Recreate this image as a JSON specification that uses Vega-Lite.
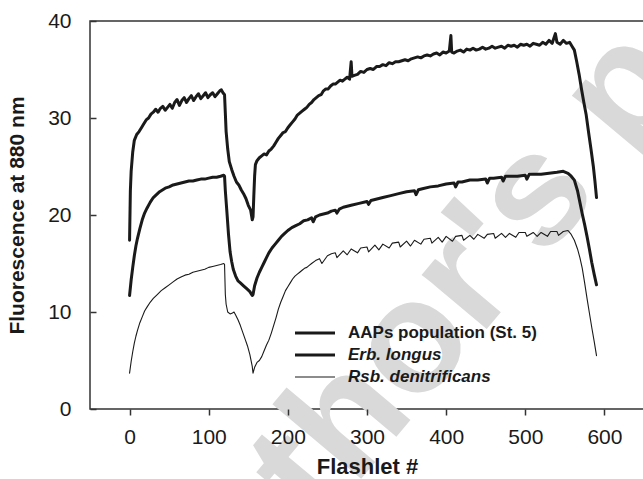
{
  "$schema": "https://vega.github.io/schema/vega-lite/v6.json",
  "width": 554,
  "height": 388,
  "autosize": {"type": "none"},
  "padding": {"left": 90, "top": 21, "right": 0, "bottom": 70},
  "config": {
    "font": "Liberation Sans",
    "view": {"stroke": "#333333", "strokeWidth": 1.5},
    "axis": {"grid": false, "domain": false, "zindex": 1, "tickColor": "#333333", "tickWidth": 1.5, "labelColor": "#1a1a1a", "titleColor": "#1a1a1a", "labelFont": "Liberation Sans", "titleFont": "Liberation Sans"}
  },
  "layer": [
    {
      "data": {"values": [{"label": "Author's personal copy"}]},
      "mark": {"type": "text", "font": "Liberation Sans", "fontSize": 160, "fontWeight": "bold", "fill": "#d9d9d9", "angle": -50, "align": "center", "baseline": "alphabetic", "clip": false},
      "encoding": {
        "text": {"field": "label", "type": "nominal"},
        "x": {"datum": 790, "type": "quantitative", "scale": {"domain": [-50, 650], "nice": false, "zero": false},
          "axis": {"values": [0, 100, 200, 300, 400, 500, 600], "zindex": 1, "tickSize": 6, "labelPadding": 11, "labelFontSize": 21, "title": "Flashlet #", "titleFontSize": 22, "titleFontWeight": "bold", "titlePadding": 9}},
        "y": {"datum": 41.2, "type": "quantitative", "scale": {"domain": [0, 40], "nice": false},
          "axis": {"values": [0, 10, 20, 30, 40], "zindex": 1, "tickSize": -6, "labelPadding": 25, "labelFontSize": 21, "title": "Fluorescence at 880 nm", "titleFontSize": 21, "titleFontWeight": "bold", "titlePadding": 20}}
      }
    },
    {
  "data": {"values": [
    {"s":"AAPs population (St. 5)","x":0,"y":17.4},{"s":"AAPs population (St. 5)","x":1,"y":22.5},{"s":"AAPs population (St. 5)","x":2,"y":24.5},{"s":"AAPs population (St. 5)","x":4,"y":26.5},{"s":"AAPs population (St. 5)","x":6,"y":27.7},{"s":"AAPs population (St. 5)","x":9,"y":28.3},{"s":"AAPs population (St. 5)","x":12,"y":28.6},{"s":"AAPs population (St. 5)","x":15,"y":29.0},{"s":"AAPs population (St. 5)","x":18,"y":29.4},{"s":"AAPs population (St. 5)","x":21,"y":29.8},{"s":"AAPs population (St. 5)","x":24,"y":30.0},{"s":"AAPs population (St. 5)","x":27,"y":30.4},{"s":"AAPs population (St. 5)","x":30,"y":30.6},{"s":"AAPs population (St. 5)","x":33,"y":30.9},{"s":"AAPs population (St. 5)","x":36,"y":30.6},{"s":"AAPs population (St. 5)","x":39,"y":31.0},{"s":"AAPs population (St. 5)","x":42,"y":31.2},{"s":"AAPs population (St. 5)","x":45,"y":30.8},{"s":"AAPs population (St. 5)","x":48,"y":31.1},{"s":"AAPs population (St. 5)","x":51,"y":31.4},{"s":"AAPs population (St. 5)","x":54,"y":31.0},{"s":"AAPs population (St. 5)","x":57,"y":31.6},{"s":"AAPs population (St. 5)","x":60,"y":31.9},{"s":"AAPs population (St. 5)","x":63,"y":31.3},{"s":"AAPs population (St. 5)","x":66,"y":31.8},{"s":"AAPs population (St. 5)","x":69,"y":32.1},{"s":"AAPs population (St. 5)","x":72,"y":31.6},{"s":"AAPs population (St. 5)","x":75,"y":32.0},{"s":"AAPs population (St. 5)","x":78,"y":32.3},{"s":"AAPs population (St. 5)","x":81,"y":31.8},{"s":"AAPs population (St. 5)","x":84,"y":32.2},{"s":"AAPs population (St. 5)","x":87,"y":32.5},{"s":"AAPs population (St. 5)","x":90,"y":32.0},{"s":"AAPs population (St. 5)","x":93,"y":32.3},{"s":"AAPs population (St. 5)","x":96,"y":32.6},{"s":"AAPs population (St. 5)","x":99,"y":32.1},{"s":"AAPs population (St. 5)","x":102,"y":32.4},{"s":"AAPs population (St. 5)","x":105,"y":32.6},{"s":"AAPs population (St. 5)","x":108,"y":32.2},{"s":"AAPs population (St. 5)","x":111,"y":32.5},{"s":"AAPs population (St. 5)","x":114,"y":32.8},{"s":"AAPs population (St. 5)","x":116,"y":32.9},{"s":"AAPs population (St. 5)","x":118,"y":32.6},{"s":"AAPs population (St. 5)","x":120,"y":32.4},{"s":"AAPs population (St. 5)","x":121,"y":30.5},{"s":"AAPs population (St. 5)","x":122,"y":28.6},{"s":"AAPs population (St. 5)","x":124,"y":26.8},{"s":"AAPs population (St. 5)","x":126,"y":25.5},{"s":"AAPs population (St. 5)","x":129,"y":24.7},{"s":"AAPs population (St. 5)","x":132,"y":24.0},{"s":"AAPs population (St. 5)","x":135,"y":23.4},{"s":"AAPs population (St. 5)","x":138,"y":23.1},{"s":"AAPs population (St. 5)","x":141,"y":22.6},{"s":"AAPs population (St. 5)","x":144,"y":22.2},{"s":"AAPs population (St. 5)","x":147,"y":21.7},{"s":"AAPs population (St. 5)","x":150,"y":21.0},{"s":"AAPs population (St. 5)","x":153,"y":20.5},{"s":"AAPs population (St. 5)","x":155,"y":19.5},{"s":"AAPs population (St. 5)","x":156,"y":19.8},{"s":"AAPs population (St. 5)","x":157,"y":22.0},{"s":"AAPs population (St. 5)","x":158,"y":24.0},{"s":"AAPs population (St. 5)","x":159,"y":25.2},{"s":"AAPs population (St. 5)","x":161,"y":25.6},{"s":"AAPs population (St. 5)","x":164,"y":25.9},{"s":"AAPs population (St. 5)","x":167,"y":26.1},{"s":"AAPs population (St. 5)","x":170,"y":26.3},{"s":"AAPs population (St. 5)","x":173,"y":26.2},{"s":"AAPs population (St. 5)","x":176,"y":26.6},{"s":"AAPs population (St. 5)","x":179,"y":26.8},{"s":"AAPs population (St. 5)","x":182,"y":27.1},{"s":"AAPs population (St. 5)","x":185,"y":27.5},{"s":"AAPs population (St. 5)","x":188,"y":27.9},{"s":"AAPs population (St. 5)","x":191,"y":28.2},{"s":"AAPs population (St. 5)","x":194,"y":28.5},{"s":"AAPs population (St. 5)","x":197,"y":28.6},{"s":"AAPs population (St. 5)","x":200,"y":29.0},{"s":"AAPs population (St. 5)","x":203,"y":29.3},{"s":"AAPs population (St. 5)","x":206,"y":29.6},{"s":"AAPs population (St. 5)","x":209,"y":29.9},{"s":"AAPs population (St. 5)","x":212,"y":30.3},{"s":"AAPs population (St. 5)","x":215,"y":30.5},{"s":"AAPs population (St. 5)","x":218,"y":30.7},{"s":"AAPs population (St. 5)","x":221,"y":30.9},{"s":"AAPs population (St. 5)","x":224,"y":31.1},{"s":"AAPs population (St. 5)","x":227,"y":31.4},{"s":"AAPs population (St. 5)","x":230,"y":31.6},{"s":"AAPs population (St. 5)","x":233,"y":31.9},{"s":"AAPs population (St. 5)","x":236,"y":32.1},{"s":"AAPs population (St. 5)","x":239,"y":32.3},{"s":"AAPs population (St. 5)","x":242,"y":32.4},{"s":"AAPs population (St. 5)","x":245,"y":32.8},{"s":"AAPs population (St. 5)","x":248,"y":33.0},{"s":"AAPs population (St. 5)","x":251,"y":33.0},{"s":"AAPs population (St. 5)","x":254,"y":33.3},{"s":"AAPs population (St. 5)","x":257,"y":33.5},{"s":"AAPs population (St. 5)","x":260,"y":33.5},{"s":"AAPs population (St. 5)","x":263,"y":33.7},{"s":"AAPs population (St. 5)","x":266,"y":33.9},{"s":"AAPs population (St. 5)","x":269,"y":33.8},{"s":"AAPs population (St. 5)","x":272,"y":34.0},{"s":"AAPs population (St. 5)","x":275,"y":34.2},{"s":"AAPs population (St. 5)","x":278,"y":34.0},{"s":"AAPs population (St. 5)","x":280,"y":35.8},{"s":"AAPs population (St. 5)","x":281,"y":34.3},{"s":"AAPs population (St. 5)","x":284,"y":34.4},{"s":"AAPs population (St. 5)","x":288,"y":34.5},{"s":"AAPs population (St. 5)","x":292,"y":34.8},{"s":"AAPs population (St. 5)","x":296,"y":34.7},{"s":"AAPs population (St. 5)","x":300,"y":35.0},{"s":"AAPs population (St. 5)","x":304,"y":35.1},{"s":"AAPs population (St. 5)","x":308,"y":35.0},{"s":"AAPs population (St. 5)","x":312,"y":35.3},{"s":"AAPs population (St. 5)","x":316,"y":35.3},{"s":"AAPs population (St. 5)","x":320,"y":35.5},{"s":"AAPs population (St. 5)","x":324,"y":35.4},{"s":"AAPs population (St. 5)","x":328,"y":35.7},{"s":"AAPs population (St. 5)","x":332,"y":35.6},{"s":"AAPs population (St. 5)","x":336,"y":35.8},{"s":"AAPs population (St. 5)","x":340,"y":35.8},{"s":"AAPs population (St. 5)","x":344,"y":35.9},{"s":"AAPs population (St. 5)","x":348,"y":36.0},{"s":"AAPs population (St. 5)","x":352,"y":35.9},{"s":"AAPs population (St. 5)","x":356,"y":36.1},{"s":"AAPs population (St. 5)","x":360,"y":36.2},{"s":"AAPs population (St. 5)","x":364,"y":36.3},{"s":"AAPs population (St. 5)","x":368,"y":36.2},{"s":"AAPs population (St. 5)","x":372,"y":36.4},{"s":"AAPs population (St. 5)","x":376,"y":36.5},{"s":"AAPs population (St. 5)","x":380,"y":36.4},{"s":"AAPs population (St. 5)","x":384,"y":36.6},{"s":"AAPs population (St. 5)","x":388,"y":36.7},{"s":"AAPs population (St. 5)","x":392,"y":36.5},{"s":"AAPs population (St. 5)","x":396,"y":36.8},{"s":"AAPs population (St. 5)","x":400,"y":36.7},{"s":"AAPs population (St. 5)","x":404,"y":36.9},{"s":"AAPs population (St. 5)","x":406,"y":38.5},{"s":"AAPs population (St. 5)","x":407,"y":36.8},{"s":"AAPs population (St. 5)","x":410,"y":36.7},{"s":"AAPs population (St. 5)","x":414,"y":36.9},{"s":"AAPs population (St. 5)","x":418,"y":37.0},{"s":"AAPs population (St. 5)","x":422,"y":36.8},{"s":"AAPs population (St. 5)","x":426,"y":37.1},{"s":"AAPs population (St. 5)","x":430,"y":37.0},{"s":"AAPs population (St. 5)","x":434,"y":37.2},{"s":"AAPs population (St. 5)","x":438,"y":37.0},{"s":"AAPs population (St. 5)","x":442,"y":37.1},{"s":"AAPs population (St. 5)","x":446,"y":37.3},{"s":"AAPs population (St. 5)","x":450,"y":37.1},{"s":"AAPs population (St. 5)","x":454,"y":37.2},{"s":"AAPs population (St. 5)","x":458,"y":37.4},{"s":"AAPs population (St. 5)","x":462,"y":37.2},{"s":"AAPs population (St. 5)","x":466,"y":37.3},{"s":"AAPs population (St. 5)","x":470,"y":37.4},{"s":"AAPs population (St. 5)","x":474,"y":37.2},{"s":"AAPs population (St. 5)","x":478,"y":37.5},{"s":"AAPs population (St. 5)","x":482,"y":37.4},{"s":"AAPs population (St. 5)","x":486,"y":37.5},{"s":"AAPs population (St. 5)","x":490,"y":37.3},{"s":"AAPs population (St. 5)","x":494,"y":37.6},{"s":"AAPs population (St. 5)","x":498,"y":37.5},{"s":"AAPs population (St. 5)","x":502,"y":37.6},{"s":"AAPs population (St. 5)","x":506,"y":37.4},{"s":"AAPs population (St. 5)","x":510,"y":37.7},{"s":"AAPs population (St. 5)","x":514,"y":37.6},{"s":"AAPs population (St. 5)","x":518,"y":37.5},{"s":"AAPs population (St. 5)","x":522,"y":37.8},{"s":"AAPs population (St. 5)","x":526,"y":37.6},{"s":"AAPs population (St. 5)","x":530,"y":38.0},{"s":"AAPs population (St. 5)","x":534,"y":37.7},{"s":"AAPs population (St. 5)","x":538,"y":38.7},{"s":"AAPs population (St. 5)","x":540,"y":37.8},{"s":"AAPs population (St. 5)","x":544,"y":37.6},{"s":"AAPs population (St. 5)","x":548,"y":38.0},{"s":"AAPs population (St. 5)","x":552,"y":37.7},{"s":"AAPs population (St. 5)","x":556,"y":37.8},{"s":"AAPs population (St. 5)","x":559,"y":37.4},{"s":"AAPs population (St. 5)","x":562,"y":37.0},{"s":"AAPs population (St. 5)","x":565,"y":35.8},{"s":"AAPs population (St. 5)","x":568,"y":34.5},{"s":"AAPs population (St. 5)","x":571,"y":33.0},{"s":"AAPs population (St. 5)","x":574,"y":31.6},{"s":"AAPs population (St. 5)","x":577,"y":30.3},{"s":"AAPs population (St. 5)","x":580,"y":28.5},{"s":"AAPs population (St. 5)","x":583,"y":26.8},{"s":"AAPs population (St. 5)","x":586,"y":25.0},{"s":"AAPs population (St. 5)","x":588,"y":23.5},{"s":"AAPs population (St. 5)","x":590,"y":21.8},
    {"s":"Erb. longus","x":0,"y":11.7},{"s":"Erb. longus","x":2,"y":13.3},{"s":"Erb. longus","x":4,"y":14.6},{"s":"Erb. longus","x":6,"y":15.8},{"s":"Erb. longus","x":8,"y":16.8},{"s":"Erb. longus","x":10,"y":17.6},{"s":"Erb. longus","x":13,"y":18.6},{"s":"Erb. longus","x":16,"y":19.5},{"s":"Erb. longus","x":19,"y":20.2},{"s":"Erb. longus","x":22,"y":20.7},{"s":"Erb. longus","x":26,"y":21.3},{"s":"Erb. longus","x":30,"y":21.8},{"s":"Erb. longus","x":34,"y":22.1},{"s":"Erb. longus","x":38,"y":22.4},{"s":"Erb. longus","x":42,"y":22.6},{"s":"Erb. longus","x":46,"y":22.8},{"s":"Erb. longus","x":50,"y":22.9},{"s":"Erb. longus","x":55,"y":23.1},{"s":"Erb. longus","x":60,"y":23.2},{"s":"Erb. longus","x":65,"y":23.3},{"s":"Erb. longus","x":70,"y":23.4},{"s":"Erb. longus","x":75,"y":23.5},{"s":"Erb. longus","x":80,"y":23.5},{"s":"Erb. longus","x":85,"y":23.6},{"s":"Erb. longus","x":90,"y":23.7},{"s":"Erb. longus","x":95,"y":23.7},{"s":"Erb. longus","x":100,"y":23.8},{"s":"Erb. longus","x":105,"y":23.9},{"s":"Erb. longus","x":110,"y":23.9},{"s":"Erb. longus","x":115,"y":24.0},{"s":"Erb. longus","x":119,"y":24.1},{"s":"Erb. longus","x":120,"y":24.0},{"s":"Erb. longus","x":121,"y":22.5},{"s":"Erb. longus","x":123,"y":20.3},{"s":"Erb. longus","x":125,"y":18.0},{"s":"Erb. longus","x":127,"y":16.2},{"s":"Erb. longus","x":129,"y":15.2},{"s":"Erb. longus","x":131,"y":14.4},{"s":"Erb. longus","x":134,"y":13.7},{"s":"Erb. longus","x":137,"y":13.2},{"s":"Erb. longus","x":140,"y":13.0},{"s":"Erb. longus","x":144,"y":12.7},{"s":"Erb. longus","x":148,"y":12.4},{"s":"Erb. longus","x":152,"y":12.1},{"s":"Erb. longus","x":155,"y":11.7},{"s":"Erb. longus","x":156,"y":11.8},{"s":"Erb. longus","x":158,"y":12.7},{"s":"Erb. longus","x":161,"y":13.5},{"s":"Erb. longus","x":164,"y":14.1},{"s":"Erb. longus","x":167,"y":14.6},{"s":"Erb. longus","x":170,"y":15.1},{"s":"Erb. longus","x":173,"y":15.6},{"s":"Erb. longus","x":176,"y":16.1},{"s":"Erb. longus","x":180,"y":16.6},{"s":"Erb. longus","x":184,"y":17.0},{"s":"Erb. longus","x":188,"y":17.4},{"s":"Erb. longus","x":192,"y":17.8},{"s":"Erb. longus","x":196,"y":18.1},{"s":"Erb. longus","x":200,"y":18.4},{"s":"Erb. longus","x":205,"y":18.7},{"s":"Erb. longus","x":210,"y":18.9},{"s":"Erb. longus","x":215,"y":19.1},{"s":"Erb. longus","x":220,"y":19.4},{"s":"Erb. longus","x":225,"y":19.5},{"s":"Erb. longus","x":230,"y":19.7},{"s":"Erb. longus","x":232,"y":19.3},{"s":"Erb. longus","x":235,"y":19.8},{"s":"Erb. longus","x":240,"y":20.0},{"s":"Erb. longus","x":245,"y":20.1},{"s":"Erb. longus","x":250,"y":20.2},{"s":"Erb. longus","x":255,"y":20.4},{"s":"Erb. longus","x":260,"y":20.5},{"s":"Erb. longus","x":262,"y":20.2},{"s":"Erb. longus","x":265,"y":20.6},{"s":"Erb. longus","x":270,"y":20.8},{"s":"Erb. longus","x":275,"y":20.9},{"s":"Erb. longus","x":280,"y":21.0},{"s":"Erb. longus","x":290,"y":21.2},{"s":"Erb. longus","x":300,"y":21.4},{"s":"Erb. longus","x":302,"y":21.1},{"s":"Erb. longus","x":305,"y":21.5},{"s":"Erb. longus","x":310,"y":21.6},{"s":"Erb. longus","x":320,"y":21.8},{"s":"Erb. longus","x":330,"y":22.0},{"s":"Erb. longus","x":340,"y":22.2},{"s":"Erb. longus","x":350,"y":22.4},{"s":"Erb. longus","x":360,"y":22.5},{"s":"Erb. longus","x":362,"y":22.1},{"s":"Erb. longus","x":365,"y":22.6},{"s":"Erb. longus","x":370,"y":22.7},{"s":"Erb. longus","x":380,"y":22.9},{"s":"Erb. longus","x":390,"y":23.0},{"s":"Erb. longus","x":400,"y":23.2},{"s":"Erb. longus","x":410,"y":23.3},{"s":"Erb. longus","x":412,"y":22.9},{"s":"Erb. longus","x":415,"y":23.4},{"s":"Erb. longus","x":420,"y":23.4},{"s":"Erb. longus","x":430,"y":23.6},{"s":"Erb. longus","x":440,"y":23.6},{"s":"Erb. longus","x":450,"y":23.7},{"s":"Erb. longus","x":452,"y":23.3},{"s":"Erb. longus","x":455,"y":23.8},{"s":"Erb. longus","x":460,"y":23.8},{"s":"Erb. longus","x":470,"y":23.9},{"s":"Erb. longus","x":472,"y":23.5},{"s":"Erb. longus","x":475,"y":24.0},{"s":"Erb. longus","x":480,"y":24.0},{"s":"Erb. longus","x":490,"y":24.0},{"s":"Erb. longus","x":500,"y":24.1},{"s":"Erb. longus","x":502,"y":23.7},{"s":"Erb. longus","x":505,"y":24.2},{"s":"Erb. longus","x":510,"y":24.2},{"s":"Erb. longus","x":520,"y":24.2},{"s":"Erb. longus","x":530,"y":24.3},{"s":"Erb. longus","x":540,"y":24.4},{"s":"Erb. longus","x":548,"y":24.5},{"s":"Erb. longus","x":554,"y":24.3},{"s":"Erb. longus","x":558,"y":24.0},{"s":"Erb. longus","x":562,"y":23.6},{"s":"Erb. longus","x":566,"y":22.5},{"s":"Erb. longus","x":569,"y":21.3},{"s":"Erb. longus","x":572,"y":20.1},{"s":"Erb. longus","x":575,"y":19.0},{"s":"Erb. longus","x":578,"y":17.8},{"s":"Erb. longus","x":581,"y":16.5},{"s":"Erb. longus","x":584,"y":15.1},{"s":"Erb. longus","x":587,"y":13.9},{"s":"Erb. longus","x":590,"y":12.8},
    {"s":"Rsb. denitrificans","x":0,"y":3.7},{"s":"Rsb. denitrificans","x":2,"y":4.9},{"s":"Rsb. denitrificans","x":4,"y":5.9},{"s":"Rsb. denitrificans","x":6,"y":6.8},{"s":"Rsb. denitrificans","x":8,"y":7.5},{"s":"Rsb. denitrificans","x":10,"y":8.1},{"s":"Rsb. denitrificans","x":13,"y":8.9},{"s":"Rsb. denitrificans","x":16,"y":9.5},{"s":"Rsb. denitrificans","x":19,"y":10.1},{"s":"Rsb. denitrificans","x":22,"y":10.5},{"s":"Rsb. denitrificans","x":26,"y":11.0},{"s":"Rsb. denitrificans","x":30,"y":11.4},{"s":"Rsb. denitrificans","x":35,"y":11.8},{"s":"Rsb. denitrificans","x":40,"y":12.2},{"s":"Rsb. denitrificans","x":45,"y":12.5},{"s":"Rsb. denitrificans","x":50,"y":12.8},{"s":"Rsb. denitrificans","x":55,"y":13.1},{"s":"Rsb. denitrificans","x":60,"y":13.4},{"s":"Rsb. denitrificans","x":65,"y":13.6},{"s":"Rsb. denitrificans","x":70,"y":13.8},{"s":"Rsb. denitrificans","x":75,"y":13.9},{"s":"Rsb. denitrificans","x":80,"y":14.1},{"s":"Rsb. denitrificans","x":85,"y":14.2},{"s":"Rsb. denitrificans","x":90,"y":14.3},{"s":"Rsb. denitrificans","x":95,"y":14.4},{"s":"Rsb. denitrificans","x":100,"y":14.6},{"s":"Rsb. denitrificans","x":105,"y":14.7},{"s":"Rsb. denitrificans","x":110,"y":14.8},{"s":"Rsb. denitrificans","x":115,"y":14.9},{"s":"Rsb. denitrificans","x":119,"y":15.0},{"s":"Rsb. denitrificans","x":120,"y":14.9},{"s":"Rsb. denitrificans","x":121,"y":11.8},{"s":"Rsb. denitrificans","x":122,"y":10.8},{"s":"Rsb. denitrificans","x":124,"y":10.0},{"s":"Rsb. denitrificans","x":127,"y":9.8},{"s":"Rsb. denitrificans","x":130,"y":9.9},{"s":"Rsb. denitrificans","x":132,"y":10.0},{"s":"Rsb. denitrificans","x":134,"y":9.7},{"s":"Rsb. denitrificans","x":137,"y":9.2},{"s":"Rsb. denitrificans","x":140,"y":8.6},{"s":"Rsb. denitrificans","x":143,"y":7.9},{"s":"Rsb. denitrificans","x":146,"y":7.2},{"s":"Rsb. denitrificans","x":149,"y":6.5},{"s":"Rsb. denitrificans","x":152,"y":5.6},{"s":"Rsb. denitrificans","x":155,"y":4.4},{"s":"Rsb. denitrificans","x":156,"y":3.7},{"s":"Rsb. denitrificans","x":158,"y":4.3},{"s":"Rsb. denitrificans","x":161,"y":4.8},{"s":"Rsb. denitrificans","x":164,"y":5.0},{"s":"Rsb. denitrificans","x":167,"y":5.4},{"s":"Rsb. denitrificans","x":170,"y":6.0},{"s":"Rsb. denitrificans","x":173,"y":6.6},{"s":"Rsb. denitrificans","x":176,"y":7.1},{"s":"Rsb. denitrificans","x":179,"y":7.8},{"s":"Rsb. denitrificans","x":182,"y":8.6},{"s":"Rsb. denitrificans","x":185,"y":9.4},{"s":"Rsb. denitrificans","x":188,"y":10.3},{"s":"Rsb. denitrificans","x":191,"y":11.0},{"s":"Rsb. denitrificans","x":194,"y":11.6},{"s":"Rsb. denitrificans","x":197,"y":12.2},{"s":"Rsb. denitrificans","x":200,"y":12.6},{"s":"Rsb. denitrificans","x":203,"y":13.0},{"s":"Rsb. denitrificans","x":206,"y":13.4},{"s":"Rsb. denitrificans","x":209,"y":13.7},{"s":"Rsb. denitrificans","x":212,"y":13.9},{"s":"Rsb. denitrificans","x":215,"y":14.1},{"s":"Rsb. denitrificans","x":218,"y":14.3},{"s":"Rsb. denitrificans","x":221,"y":14.5},{"s":"Rsb. denitrificans","x":224,"y":14.6},{"s":"Rsb. denitrificans","x":227,"y":14.8},{"s":"Rsb. denitrificans","x":230,"y":15.0},{"s":"Rsb. denitrificans","x":235,"y":15.3},{"s":"Rsb. denitrificans","x":240,"y":15.5},{"s":"Rsb. denitrificans","x":243,"y":15.0},{"s":"Rsb. denitrificans","x":250,"y":15.8},{"s":"Rsb. denitrificans","x":255,"y":16.0},{"s":"Rsb. denitrificans","x":260,"y":16.1},{"s":"Rsb. denitrificans","x":262,"y":15.6},{"s":"Rsb. denitrificans","x":270,"y":16.3},{"s":"Rsb. denitrificans","x":275,"y":15.9},{"s":"Rsb. denitrificans","x":280,"y":16.5},{"s":"Rsb. denitrificans","x":288,"y":16.1},{"s":"Rsb. denitrificans","x":292,"y":16.6},{"s":"Rsb. denitrificans","x":300,"y":16.7},{"s":"Rsb. denitrificans","x":302,"y":16.2},{"s":"Rsb. denitrificans","x":310,"y":16.9},{"s":"Rsb. denitrificans","x":315,"y":16.4},{"s":"Rsb. denitrificans","x":320,"y":17.0},{"s":"Rsb. denitrificans","x":328,"y":16.6},{"s":"Rsb. denitrificans","x":332,"y":17.1},{"s":"Rsb. denitrificans","x":340,"y":17.2},{"s":"Rsb. denitrificans","x":342,"y":16.7},{"s":"Rsb. denitrificans","x":350,"y":17.3},{"s":"Rsb. denitrificans","x":355,"y":16.8},{"s":"Rsb. denitrificans","x":360,"y":17.4},{"s":"Rsb. denitrificans","x":368,"y":17.0},{"s":"Rsb. denitrificans","x":372,"y":17.5},{"s":"Rsb. denitrificans","x":380,"y":17.6},{"s":"Rsb. denitrificans","x":382,"y":17.1},{"s":"Rsb. denitrificans","x":390,"y":17.7},{"s":"Rsb. denitrificans","x":395,"y":17.2},{"s":"Rsb. denitrificans","x":400,"y":17.8},{"s":"Rsb. denitrificans","x":408,"y":17.3},{"s":"Rsb. denitrificans","x":412,"y":17.8},{"s":"Rsb. denitrificans","x":420,"y":17.9},{"s":"Rsb. denitrificans","x":422,"y":17.4},{"s":"Rsb. denitrificans","x":430,"y":17.9},{"s":"Rsb. denitrificans","x":435,"y":17.5},{"s":"Rsb. denitrificans","x":440,"y":18.0},{"s":"Rsb. denitrificans","x":448,"y":17.6},{"s":"Rsb. denitrificans","x":452,"y":18.0},{"s":"Rsb. denitrificans","x":460,"y":18.1},{"s":"Rsb. denitrificans","x":462,"y":17.6},{"s":"Rsb. denitrificans","x":470,"y":18.1},{"s":"Rsb. denitrificans","x":475,"y":17.7},{"s":"Rsb. denitrificans","x":480,"y":18.1},{"s":"Rsb. denitrificans","x":488,"y":17.7},{"s":"Rsb. denitrificans","x":492,"y":18.2},{"s":"Rsb. denitrificans","x":500,"y":18.2},{"s":"Rsb. denitrificans","x":502,"y":17.8},{"s":"Rsb. denitrificans","x":510,"y":18.2},{"s":"Rsb. denitrificans","x":515,"y":17.8},{"s":"Rsb. denitrificans","x":520,"y":18.2},{"s":"Rsb. denitrificans","x":528,"y":17.8},{"s":"Rsb. denitrificans","x":532,"y":18.3},{"s":"Rsb. denitrificans","x":540,"y":18.3},{"s":"Rsb. denitrificans","x":542,"y":17.9},{"s":"Rsb. denitrificans","x":548,"y":18.3},{"s":"Rsb. denitrificans","x":554,"y":18.4},{"s":"Rsb. denitrificans","x":558,"y":18.0},{"s":"Rsb. denitrificans","x":562,"y":17.4},{"s":"Rsb. denitrificans","x":566,"y":16.5},{"s":"Rsb. denitrificans","x":569,"y":15.6},{"s":"Rsb. denitrificans","x":572,"y":14.5},{"s":"Rsb. denitrificans","x":575,"y":13.0},{"s":"Rsb. denitrificans","x":578,"y":11.4},{"s":"Rsb. denitrificans","x":581,"y":9.9},{"s":"Rsb. denitrificans","x":584,"y":8.4},{"s":"Rsb. denitrificans","x":587,"y":7.0},{"s":"Rsb. denitrificans","x":590,"y":5.5}
  ]},
  "mark": {"type": "line", "strokeJoin": "round", "strokeCap": "round", "clip": true},
  "encoding": {
    "x": {"field": "x", "type": "quantitative",
      "scale": {"domain": [-50, 650], "nice": false, "zero": false},
      "axis": {"values": [0, 100, 200, 300, 400, 500, 600], "zindex": 1, "tickSize": 6, "labelPadding": 11, "labelFontSize": 21, "title": "Flashlet #", "titleFontSize": 22, "titleFontWeight": "bold", "titlePadding": 9}},
    "y": {"field": "y", "type": "quantitative",
      "scale": {"domain": [0, 40], "nice": false},
      "axis": {"values": [0, 10, 20, 30, 40], "zindex": 1, "tickSize": -6, "labelPadding": 25, "labelFontSize": 21, "title": "Fluorescence at 880 nm", "titleFontSize": 21, "titleFontWeight": "bold", "titlePadding": 20}},
    "color": {"field": "s", "type": "nominal",
      "scale": {"domain": ["AAPs population (St. 5)", "Erb. longus", "Rsb. denitrificans"], "range": ["#1a1a1a", "#1a1a1a", "#1a1a1a"]},
      "legend": {"title": null, "orient": "none", "legendX": 203, "legendY": 304, "symbolSize": 1600, "symbolType": "stroke", "labelFontSize": 17, "labelFontWeight": "bold", "labelColor": "#1a1a1a", "labelOffset": 11, "labelLimit": 400, "rowPadding": 5, "clipHeight": 16,
        "encode": {
          "labels": {"update": {"fontStyle": {"signal": "(datum.label == 'AAPs population (St. 5)' ? 'normal' : 'italic')"}}},
          "symbols": {"update": {"strokeWidth": {"signal": "(datum.label == 'Rsb. denitrificans' ? 1.2 : 3.2)"}, "stroke": {"value": "#1a1a1a"}}}
        }}},
    "strokeWidth": {"condition": {"test": "datum.s == 'Rsb. denitrificans'", "value": 1.1}, "value": 3}
  }
    }
  ]
}
